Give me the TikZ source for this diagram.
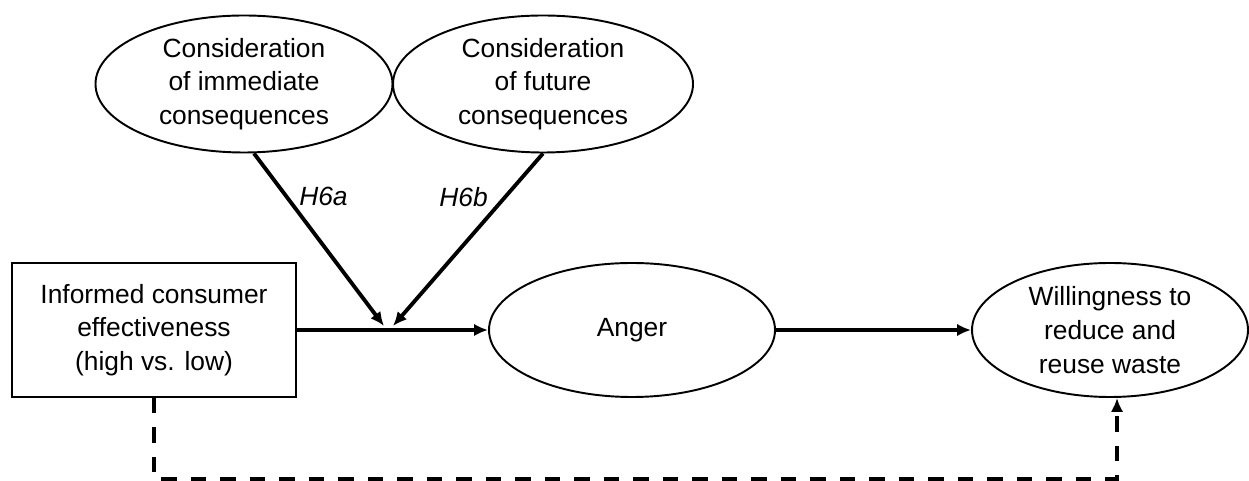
\documentclass[tikz,border=0pt]{standalone}
\usepackage{fontspec}
\setmainfont{Liberation Sans}
\usetikzlibrary{arrows.meta,positioning,calc,shapes.geometric}

\begin{document}
\begin{tikzpicture}[font=\fontsize{15}{19.2}\selectfont, >={Latex[length=0.28cm,width=0.25cm]},
  construct/.style={draw,ellipse,line width=1.1pt,align=center,inner sep=0pt},
  manip/.style={draw,rectangle,line width=1.1pt,align=center,inner sep=0pt},
  effect/.style={->,line width=2.2pt},
  hyplabel/.style={font=\fontsize{15}{18}\selectfont\itshape}]
  \useasboundingbox (0,0) rectangle (24.98,9.62);
  % moderators
  \node[construct,minimum width=5.94cm,minimum height=2.74cm] (cic) at (4.88,7.94) {Consideration\\of immediate\\consequences};
  \node[construct,minimum width=6.0cm,minimum height=2.74cm] (cfc) at (10.86,7.94) {Consideration\\of future\\consequences};
  % main path
  \node[manip,minimum width=5.68cm,minimum height=2.68cm] (ice) at (3.08,3.02) {Informed consumer\\effectiveness\\(high vs. low)};
  \node[construct,minimum width=5.72cm,minimum height=2.68cm] (anger) at (12.64,3.02) {Anger};
  \node[construct,minimum width=5.52cm,minimum height=2.68cm] (will) at (22.2,3.02) {Willingness to\\reduce and\\reuse waste};
  \coordinate (jA) at (7.68,3.1);
  \coordinate (jB) at (7.86,3.1);
  \coordinate (dl) at (3.08,0.04);
  \coordinate (dr) at (22.34,0.04);
  \draw[effect] (ice) -- (anger);
  \draw[effect] (anger) -- (will);
  \draw[effect] ([xshift=0.2cm]cic.south) -- node[hyplabel,pos=0.25,right=0.1cm] {H6a} (jA);
  \draw[effect] (cfc.south) -- node[hyplabel,pos=0.25,left=0.2cm] {H6b} (jB);
  % direct effect
  \draw[effect,dash pattern=on 0.31cm off 0.28cm] (ice.south) -- (dl) -- (dr) -- (will.south -| dr);
\end{tikzpicture}
\end{document}
